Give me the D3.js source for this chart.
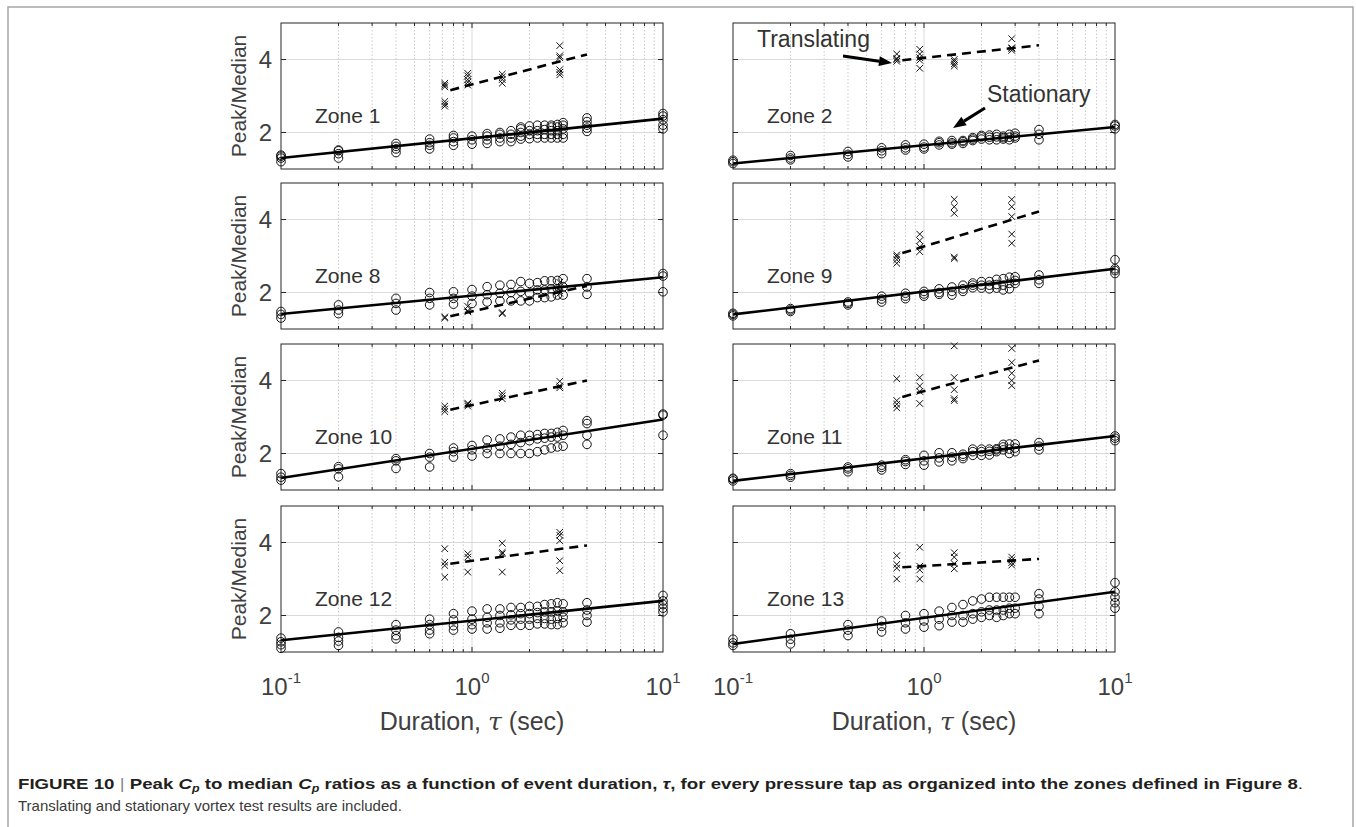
<!DOCTYPE html>
<html>
<head>
<meta charset="utf-8">
<script src="https://cdn.jsdelivr.net/npm/d3@7"></script>
<style>
  body { margin: 0; background: #fff; }
  svg { display: block; font-family: "Liberation Sans", Arial, sans-serif; }
</style>
</head>
<body>
<svg id="fig" width="1356" height="827"></svg>
<script>
// durations of the stationary tests (sec) and of the translating tests
const durations = [0.1, 0.2, 0.4, 0.6, 0.8, 1.0, 1.2, 1.4, 1.6, 1.8, 2.0, 2.2, 2.4, 2.6, 2.8, 3.0, 4.0, 10];
const transDurations = [0.72, 0.95, 1.44, 2.88];

const zoneNames = ["Zone 1", "Zone 2", "Zone 8", "Zone 9", "Zone 10", "Zone 11", "Zone 12", "Zone 13"];

// stationary peak/median ratios, one list per duration
const zone1Stat = [[1.2,1.3,1.35,1.38],[1.3,1.42,1.5,1.52],[1.45,1.55,1.62,1.7],[1.55,1.65,1.72,1.82],[1.65,1.75,1.85,1.92],[1.68,1.8,1.9],[1.7,1.8,1.9,1.97],[1.75,1.85,1.95,2.0],[1.75,1.85,1.95,2.05],[1.82,1.9,2.0,2.1,2.15],[1.83,1.95,2.05,2.18],[1.85,1.95,2.05,2.2],[1.85,1.95,2.08,2.2],[1.85,1.95,2.05,2.15,2.2],[1.85,1.95,2.05,2.15,2.22],[1.85,1.95,2.1,2.2,2.27],[2.03,2.12,2.2,2.3,2.4],[2.1,2.2,2.35,2.45,2.52]];
const zone2Stat = [[1.15,1.2,1.24],[1.25,1.3,1.37],[1.33,1.4,1.48],[1.42,1.5,1.58],[1.52,1.58,1.66],[1.55,1.6,1.68],[1.66,1.72,1.76],[1.68,1.72,1.78],[1.7,1.75,1.78],[1.78,1.82,1.86],[1.82,1.88,1.92],[1.8,1.87,1.93],[1.8,1.88,1.95],[1.82,1.86,1.9],[1.8,1.87,1.95],[1.85,1.9,1.98],[1.8,1.95,2.08],[2.1,2.18,2.22]];
const zone8Stat = [[1.3,1.4,1.48],[1.42,1.52,1.66],[1.52,1.7,1.84],[1.66,1.84,2.0],[1.68,1.84,2.02],[1.7,1.9,2.08],[1.74,1.94,2.16],[1.77,1.98,2.2],[1.77,2.0,2.22],[1.77,2.03,2.3],[1.77,1.98,2.25],[1.86,2.07,2.27],[1.86,2.07,2.32],[1.88,2.1,2.32],[1.93,2.1,2.33],[1.93,2.15,2.38],[1.95,2.15,2.38],[2.02,2.45,2.52]];
const zone9Stat = [[1.36,1.4,1.43],[1.48,1.52,1.56],[1.66,1.7,1.74],[1.74,1.82,1.9],[1.83,1.9,1.98],[1.9,1.96,2.03],[1.95,2.0,2.1],[1.93,2.03,2.15],[2.03,2.1,2.2],[2.13,2.2,2.26],[2.12,2.2,2.3],[2.1,2.2,2.3],[2.12,2.22,2.36],[2.07,2.2,2.38],[2.1,2.25,2.42],[2.25,2.33,2.43],[2.25,2.35,2.48],[2.52,2.6,2.65,2.9]];
const zone10Stat = [[1.27,1.35,1.45],[1.36,1.58,1.64],[1.59,1.8,1.86],[1.63,1.9,2.0],[1.9,2.05,2.15],[1.93,2.1,2.22],[2.0,2.15,2.37],[2.0,2.2,2.4],[2.0,2.25,2.45],[2.0,2.3,2.5],[2.0,2.35,2.5],[2.05,2.4,2.52],[2.1,2.42,2.55],[2.15,2.45,2.55],[2.18,2.45,2.58],[2.2,2.5,2.63],[2.25,2.5,2.82,2.9],[2.5,3.05,3.08]];
const zone11Stat = [[1.25,1.3,1.32],[1.35,1.4,1.45],[1.5,1.58,1.63],[1.55,1.62,1.68],[1.7,1.78,1.83],[1.68,1.8,1.95],[1.77,1.88,2.02],[1.8,1.9,2.02],[1.86,1.92,1.98],[1.95,2.05,2.12],[1.95,2.05,2.12],[1.96,2.06,2.12],[2.05,2.1,2.13],[2.1,2.18,2.25],[2.0,2.12,2.26],[2.05,2.15,2.26],[2.1,2.2,2.3],[2.35,2.42,2.48]];
const zone12Stat = [[1.1,1.2,1.28,1.38],[1.18,1.3,1.4,1.55],[1.36,1.45,1.6,1.75],[1.5,1.6,1.75,1.9],[1.6,1.72,1.88,2.05],[1.63,1.75,1.9,2.12],[1.63,1.8,1.95,2.18],[1.65,1.8,2.0,2.18],[1.73,1.88,2.02,2.22],[1.73,1.9,2.05,2.22],[1.73,1.9,2.05,2.25],[1.77,1.92,2.08,2.25],[1.77,1.92,2.1,2.3],[1.75,1.9,2.1,2.32],[1.75,1.92,2.12,2.35],[1.8,1.95,2.1,2.32],[1.82,2.0,2.15,2.35],[2.1,2.2,2.3,2.4,2.55]];
const zone13Stat = [[1.18,1.25,1.35],[1.22,1.35,1.5],[1.45,1.6,1.75],[1.55,1.7,1.85],[1.63,1.8,2.0],[1.68,1.85,2.05],[1.72,1.9,2.12],[1.82,2.0,2.22],[1.82,2.0,2.3],[1.9,2.05,2.4],[1.95,2.1,2.45],[2.0,2.15,2.5],[1.95,2.15,2.5],[2.0,2.15,2.5],[2.05,2.2,2.5],[2.05,2.2,2.5],[2.05,2.25,2.45,2.6],[2.2,2.35,2.5,2.65,2.9]];

// translating peak/median ratios, one list per translating duration
const zone1Trans = [[2.72,2.78,2.85,3.25,3.3,3.35],[3.3,3.38,3.45,3.55,3.62],[3.35,3.45,3.52,3.6],[3.58,3.65,3.72,4.05,4.1,4.38]];
const zone2Trans = [[3.95,4.0,4.03,4.15],[3.76,3.98,4.05,4.15,4.28],[3.82,3.88,3.95,4.0],[4.25,4.3,4.32,4.57]];
const zone8Trans = [[1.3,1.33],[1.47,1.5,1.62],[1.42,1.45],[1.98,2.05,2.15,2.28]];
const zone9Trans = [[2.8,2.9,2.98,3.03],[3.12,3.25,3.42,3.6],[2.93,2.97,4.17,4.35,4.55],[3.35,3.6,4.08,4.35,4.55]];
const zone10Trans = [[3.15,3.22,3.3],[3.3,3.35,3.38],[3.5,3.58,3.65],[3.8,3.85,3.98]];
const zone11Trans = [[3.25,3.35,3.45,4.05],[3.37,3.7,3.85,4.08],[3.45,3.5,3.75,4.08,4.95],[3.86,4.0,4.2,4.49,4.88]];
const zone12Trans = [[3.05,3.37,3.46,3.83],[3.19,3.6,3.69],[3.19,3.69,3.73,3.98],[3.23,3.5,4.05,4.2,4.28]];
const zone13Trans = [[3.0,3.3,3.4,3.64],[3.0,3.25,3.35,3.87],[3.28,3.42,3.6,3.72],[3.38,3.45,3.52,3.6]];

// fitted trend lines: x ends and y ends per zone
const statFitX = [0.1, 10];
const statFitY = [[1.3,2.38],[1.15,2.15],[1.41,2.42],[1.4,2.65],[1.33,2.93],[1.25,2.48],[1.32,2.4],[1.22,2.65]];
const transFitX = [0.77, 4];
const transFitY = [[3.16,4.14],[3.98,4.39],[1.35,2.18],[3.08,4.22],[3.2,4.0],[3.55,4.55],[3.42,3.92],[3.32,3.55]];

const yTicks = [2, 4];
const xTickLabels = [["10", "-1"], ["10", "0"], ["10", "1"]];
const xTickValues = [0.1, 1, 10];

const statData = [zone1Stat, zone2Stat, zone8Stat, zone9Stat, zone10Stat, zone11Stat, zone12Stat, zone13Stat];
const transData = [zone1Trans, zone2Trans, zone8Trans, zone9Trans, zone10Trans, zone11Trans, zone12Trans, zone13Trans];

const svg = d3.select("#fig");
const textCol = "#404040";

// outer frame
svg.append("rect").attr("x", 8).attr("y", 7).attr("width", 1345).attr("height", 840)
  .attr("fill", "none").attr("stroke", "#a6a6a6").attr("stroke-width", 1.5);

const colX = [281, 733];
const rowY = [23, 183, 344, 506];
const pw = 382, ph = 146;

const x = d3.scaleLog().domain([0.1, 10]).range([0, pw]);
const y = d3.scaleLinear().domain([1, 5]).range([ph, 0]);

let minorTicks = [];
[0.1, 1].forEach(function(dec) {
  for (let k = 2; k <= 9; k++) minorTicks.push(dec * k);
});

const line = d3.line().x(d => x(d[0])).y(d => y(d[1]));

zoneNames.forEach(function(name, i) {
  const col = i % 2, row = Math.floor(i / 2);
  const g = svg.append("g").attr("transform", "translate(" + colX[col] + "," + rowY[row] + ")");

  // grid
  g.selectAll(".minor").data(minorTicks).enter().append("line")
    .attr("x1", d => x(d)).attr("x2", d => x(d)).attr("y1", 0).attr("y2", ph)
    .attr("stroke", "#bdbdbd").attr("stroke-width", 0.8).attr("stroke-dasharray", "1.5,2");
  g.append("line").attr("x1", x(1)).attr("x2", x(1)).attr("y1", 0).attr("y2", ph)
    .attr("stroke", "#d9d9d9").attr("stroke-width", 1);
  g.selectAll(".ygrid").data(yTicks).enter().append("line")
    .attr("x1", 0).attr("x2", pw).attr("y1", d => y(d)).attr("y2", d => y(d))
    .attr("stroke", "#d9d9d9").attr("stroke-width", 1);

  // ticks inside the box
  const allX = minorTicks.map(d => [d, 3]).concat([[1, 5]]);
  allX.forEach(function(t) {
    g.append("line").attr("x1", x(t[0])).attr("x2", x(t[0])).attr("y1", ph).attr("y2", ph - t[1]).attr("stroke", "#262626");
    g.append("line").attr("x1", x(t[0])).attr("x2", x(t[0])).attr("y1", 0).attr("y2", t[1]).attr("stroke", "#262626");
  });
  yTicks.forEach(function(t) {
    g.append("line").attr("x1", 0).attr("x2", 5).attr("y1", y(t)).attr("y2", y(t)).attr("stroke", "#262626");
    g.append("line").attr("x1", pw - 5).attr("x2", pw).attr("y1", y(t)).attr("y2", y(t)).attr("stroke", "#262626");
  });

  // stationary circles
  const pts = [];
  statData[i].forEach(function(vals, j) { vals.forEach(v => pts.push([durations[j], v])); });
  g.selectAll(".stat").data(pts).enter().append("circle")
    .attr("cx", d => x(d[0])).attr("cy", d => y(d[1])).attr("r", 4.3)
    .attr("fill", "none").attr("stroke", "#111").attr("stroke-width", 1);

  // translating crosses
  const tpts = [];
  transData[i].forEach(function(vals, j) { vals.forEach(v => tpts.push([transDurations[j], v])); });
  const s = 3.3;
  g.selectAll(".trans").data(tpts).enter().append("path")
    .attr("d", d => {
      const cx = x(d[0]), cy = y(d[1]);
      return "M" + (cx - s) + "," + (cy - s) + "L" + (cx + s) + "," + (cy + s) +
             "M" + (cx - s) + "," + (cy + s) + "L" + (cx + s) + "," + (cy - s);
    })
    .attr("stroke", "#111").attr("stroke-width", 1).attr("fill", "none");

  // fits
  g.append("path").datum(statFitX.map((v, k) => [v, statFitY[i][k]]))
    .attr("d", line).attr("stroke", "#000").attr("stroke-width", 2.6).attr("fill", "none");
  g.append("path").datum(transFitX.map((v, k) => [v, transFitY[i][k]]))
    .attr("d", line).attr("stroke", "#000").attr("stroke-width", 2.6).attr("fill", "none")
    .attr("stroke-dasharray", "9,6");

  // box
  g.append("rect").attr("width", pw).attr("height", ph)
    .attr("fill", "none").attr("stroke", "#262626").attr("stroke-width", 1);

  // zone label
  g.append("text").attr("x", 34).attr("y", 100).attr("font-size", 21).attr("fill", "#333")
    .text(name);

  if (col === 0) {
    g.selectAll(".ytl").data(yTicks).enter().append("text")
      .attr("x", -9).attr("y", d => y(d) + 8.5).attr("text-anchor", "end")
      .attr("font-size", 24).attr("fill", textCol).text(d => d);
    g.append("text").attr("transform", "translate(-35," + (ph / 2) + ") rotate(-90)")
      .attr("text-anchor", "middle").attr("font-size", 21).attr("fill", textCol)
      .text("Peak/Median");
  }

  if (row === 3) {
    xTickValues.forEach(function(v, k) {
      const t = g.append("text").attr("x", x(v)).attr("y", ph + 43).attr("text-anchor", "middle")
        .attr("font-size", 24).attr("fill", textCol);
      t.append("tspan").text(xTickLabels[k][0]);
      t.append("tspan").attr("dy", -12).attr("font-size", 15).text(xTickLabels[k][1]);
    });
    const xl = g.append("text").attr("x", pw / 2).attr("y", ph + 78).attr("text-anchor", "middle")
      .attr("font-size", 25).attr("fill", textCol);
    xl.append("tspan").text("Duration, ");
    xl.append("tspan").attr("font-style", "italic").attr("font-family", "DejaVu Serif").text("τ");
    xl.append("tspan").text(" (sec)");
  }

  // annotations in zone 2
  if (i === 1) {
    g.append("text").attr("x", 24).attr("y", 24).attr("font-size", 23).attr("fill", "#333").text("Translating");
    g.append("text").attr("x", 254).attr("y", 79).attr("font-size", 23).attr("fill", "#333").text("Stationary");
    const arrows = [[[110, 33], [159, 40]], [[252, 85], [220, 105]]];
    arrows.forEach(function(a) {
      const dx = a[1][0] - a[0][0], dy = a[1][1] - a[0][1];
      const len = Math.sqrt(dx * dx + dy * dy), ux = dx / len, uy = dy / len;
      const hl = 13, hw = 5;
      const bx = a[1][0] - ux * hl, by = a[1][1] - uy * hl;
      g.append("line").attr("x1", a[0][0]).attr("y1", a[0][1]).attr("x2", bx).attr("y2", by)
        .attr("stroke", "#000").attr("stroke-width", 3);
      g.append("path").attr("d", "M" + a[1][0] + "," + a[1][1] +
          "L" + (bx - uy * hw) + "," + (by + ux * hw) + "L" + (bx + uy * hw) + "," + (by - ux * hw) + "Z")
        .attr("fill", "#000");
    });
  }
});

// caption
const cap = svg.append("text").attr("x", 18).attr("y", 789).attr("font-size", 15)
  .attr("font-weight", "bold").attr("fill", "#231f20")
  .attr("textLength", 1285).attr("lengthAdjust", "spacingAndGlyphs");
cap.append("tspan").text("FIGURE 10 ");
cap.append("tspan").attr("font-weight", "normal").attr("fill", "#888").text("|");
cap.append("tspan").text(" Peak ");
cap.append("tspan").attr("font-style", "italic").text("C");
cap.append("tspan").attr("font-style", "italic").attr("font-size", 10).attr("dy", 3).text("p");
cap.append("tspan").attr("dy", -3).text(" to median ");
cap.append("tspan").attr("font-style", "italic").text("C");
cap.append("tspan").attr("font-style", "italic").attr("font-size", 10).attr("dy", 3).text("p");
cap.append("tspan").attr("dy", -3).text(" ratios as a function of event duration, ");
cap.append("tspan").attr("font-style", "italic").text("τ");
cap.append("tspan").text(", for every pressure tap as organized into the zones defined in Figure 8");
cap.append("tspan").attr("font-weight", "normal").text(".");

svg.append("text").attr("x", 18).attr("y", 811).attr("font-size", 15).attr("fill", "#3a3a3a")
  .text("Translating and stationary vortex test results are included.");
</script>
</body>
</html>
